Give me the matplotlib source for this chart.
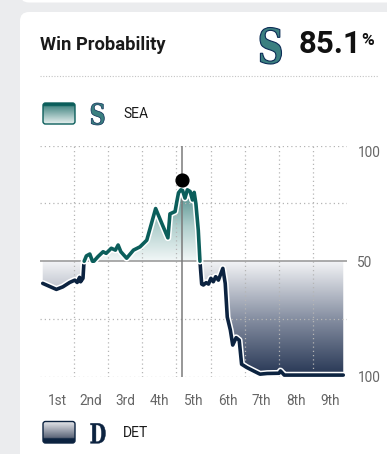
import numpy as np
import matplotlib
matplotlib.use("Agg")
import matplotlib.pyplot as plt
from matplotlib.patches import FancyBboxPatch, Polygon, PathPatch
from matplotlib.textpath import TextPath
from matplotlib.font_manager import FontProperties
from matplotlib.colors import LinearSegmentedColormap
import matplotlib.patheffects as pe
import matplotlib.transforms as mtransforms

# ---------------- data ----------------
innings = [0.08, 0.48, 0.67, 0.87, 1.02, 1.09, 1.16, 1.19, 1.26, 1.29, 1.36, 1.46, 1.55,
           1.70, 1.85, 1.94, 2.09, 2.21, 2.29, 2.37, 2.54, 2.74, 2.93, 3.13, 3.39, 3.57,
           3.75, 3.81, 3.96, 4.01, 4.06, 4.13, 4.18, 4.25, 4.32, 4.40, 4.47, 4.52, 4.57,
           4.64, 4.69, 4.74, 4.79, 4.87, 4.94, 5.01, 5.08, 5.15, 5.23, 5.36, 5.43, 5.49,
           5.58, 5.65, 5.75, 5.84, 5.91, 6.06, 6.26, 6.45, 6.66, 7.01, 7.05, 7.10, 7.16, 8.89]
sea_prob = [40.4, 37.8, 38.9, 40.8, 41.8, 40.8, 43.0, 41.1, 42.6, 49.8, 52.3, 53.1, 49.5,
            52.0, 54.1, 53.4, 55.6, 54.8, 57.0, 54.1, 51.3, 54.8, 56.2, 59.1, 72.8, 66.4,
            60.1, 70.5, 71.5, 75.7, 79.6, 80.9, 80.6, 77.3, 80.9, 80.2, 76.5, 79.8, 74.9,
            63.4, 49.8, 40.1, 39.7, 40.7, 40.1, 42.6, 41.1, 43.3, 41.8, 46.9, 40.4, 25.8,
            20.2, 13.7, 16.9, 15.8, 5.4, 4.0, 2.5, 1.1, 1.4, 1.5, 2.5, 1.7, 0.7, 0.7]
inning_labels = ["1st", "2nd", "3rd", "4th", "5th", "6th", "7th", "8th", "9th"]
y_ticks = [0, 50, 100]
y_tick_labels = ["100", "50", "100"]
grid_prob = [0, 25, 75, 100]
selected_inning = 4.16
selected_prob = 85.1
header_value = "85.1"
title = "Win Probability"
team_home = "SEA"
team_away = "DET"

SEA_C = "#0b5e5b"
DET_C = "#0c2340"
W, H = 387, 454

fig = plt.figure(figsize=(W / 100, H / 100), dpi=100)
fig.patch.set_facecolor("#ebecee")

# background axes in pixel coordinates
bg = fig.add_axes([0, 0, 1, 1], zorder=0)
bg.set_xlim(0, W)
bg.set_ylim(H, 0)
bg.axis("off")

bg.add_patch(FancyBboxPatch((20, -40), 420, 42.5, boxstyle="round,pad=0,rounding_size=9",
                            facecolor="white", edgecolor="none"))
bg.add_patch(FancyBboxPatch((20, 12), 420, 500, boxstyle="round,pad=0,rounding_size=9",
                            facecolor="white", edgecolor="none"))


def glyph(ax, ch, box, family, weight, face, edge, lw, style="normal"):
    x0, y0, x1, y1 = box
    tp = TextPath((0, 0), ch, size=1, prop=FontProperties(family=family, weight=weight, style=style))
    ext = tp.get_extents()
    sx = (x1 - x0) / ext.width
    sy = (y1 - y0) / ext.height
    tr = mtransforms.Affine2D().translate(-ext.x0, -ext.y1).scale(sx, -sy).translate(x0, y0)
    ax.add_patch(PathPatch(tr.transform_path(tp), facecolor=face, edgecolor=edge, lw=lw, zorder=3))


def icon(ax, x0, y0, w, h, stops, border):
    patch = FancyBboxPatch((x0, y0), w, h, boxstyle="round,pad=0,rounding_size=2.5",
                           facecolor="none", edgecolor=border, lw=1.0, zorder=4)
    ax.add_patch(patch)
    cmap = LinearSegmentedColormap.from_list("ic", stops)
    grad = np.linspace(0, 1, 128).reshape(-1, 1)
    im = ax.imshow(grad, extent=[x0, x0 + w, y0 + h, y0], origin="upper", cmap=cmap,
                   aspect="auto", interpolation="bilinear", zorder=3)
    im.set_clip_path(patch)


# header
bg.text(40, 50, title, fontsize=13.2, fontfamily="Roboto", fontweight="bold",
        color="#1a1a1a", va="baseline", ha="left")
glyph(bg, "S", (260, 27.5, 281.5, 64), "DejaVu Serif", "bold", "#3b7f80", "#0c2c56", 0.8)
bg.text(299, 53.3, header_value, fontsize=22.5, fontfamily="Roboto", fontweight="bold",
        color="#111111", va="baseline", ha="left")
bg.text(361, 45.2, "%", fontsize=12.5, fontfamily="Roboto", fontweight="bold",
        color="#111111", va="baseline", ha="left")
bg.plot([40, 378], [76, 76], color="#c4c4c4", lw=0.8, ls=(0, (1, 1.5)))

# legend
icon(bg, 43, 103, 32, 21, [(0, SEA_C), (0.13, SEA_C), (0.16, "#4d8c89"), (1, "#e8f1f0")], SEA_C)
glyph(bg, "S", (91, 103, 104.3, 125), "DejaVu Serif", "bold", "#3b7f80", "#0c2c56", 0.5)
bg.text(123, 118.3, team_home, fontsize=10, fontfamily="Roboto", color="#1a1a1a", va="baseline")
icon(bg, 43, 421.5, 32, 21.5, [(0, "#e9ebef"), (0.76, "#5d6679"), (0.80, DET_C), (1, DET_C)], DET_C)
glyph(bg, "D", (90.5, 423.3, 105.5, 443.3), "DejaVu Serif", "bold", DET_C, DET_C, 0.3)
bg.text(123, 437, team_away, fontsize=10, fontfamily="Roboto", color="#1a1a1a", va="baseline")

bg.set_xlim(0, W)
bg.set_ylim(H, 0)

# ---------------- plot axes ----------------
left, right, top, bottom = 40, 347, 145.7, 376.7
ax = fig.add_axes([left / W, (H - bottom) / H, (right - left) / W, (bottom - top) / H], zorder=1)
ax.patch.set_alpha(0)
ax.set_xlim(0, 9)
ax.set_ylim(0, 100)
for s in ax.spines.values():
    s.set_visible(False)

# insert crossing points at 50
x = np.array(innings, float)
y = np.array(sea_prob, float)
xs, ys = [x[0]], [y[0]]
for i in range(1, len(x)):
    y0, y1 = y[i - 1], y[i]
    if (y0 - 50) * (y1 - 50) < 0:
        t = (50 - y0) / (y1 - y0)
        xs.append(x[i - 1] + t * (x[i] - x[i - 1]))
        ys.append(50.0)
    xs.append(x[i])
    ys.append(y[i])
xs = np.array(xs)
ys = np.array(ys)

# gradient fills
sea_cmap = LinearSegmentedColormap.from_list(
    "sea", [(0, "#f2f7f7"), (0.3, "#b0cfcd"), (0.6, "#4f8d8a"), (1, "#0b5e5b")])
det_cmap = LinearSegmentedColormap.from_list(
    "det", [(0, "#243452"), (0.5, "#858ea1"), (1, "#f3f4f6")])

sea_verts = [(xs[0], 50)] + list(zip(xs, np.maximum(ys, 50))) + [(xs[-1], 50)]
det_verts = [(xs[0], 50)] + list(zip(xs, np.minimum(ys, 50))) + [(xs[-1], 50)]
sea_poly = Polygon(sea_verts, closed=True, facecolor="none", edgecolor="none")
det_poly = Polygon(det_verts, closed=True, facecolor="none", edgecolor="none")
ax.add_patch(sea_poly)
ax.add_patch(det_poly)
g = np.linspace(0, 1, 256).reshape(-1, 1)
im1 = ax.imshow(g, extent=[0, 9, 50, 100], origin="lower", cmap=sea_cmap, aspect="auto",
                interpolation="bilinear", zorder=1)
im1.set_clip_path(sea_poly)
im2 = ax.imshow(g, extent=[0, 9, 0, 50], origin="lower", cmap=det_cmap, aspect="auto",
                interpolation="bilinear", zorder=1)
im2.set_clip_path(det_poly)

# grid
dot = (0, (1, 2.4))
for p in grid_prob:
    ax.axhline(p, color="#b5b5b5", lw=0.9, ls=dot, zorder=2)
for k in range(1, 9):
    ax.axvline(k, color="#b5b5b5", lw=0.9, ls=dot, zorder=2)
ax.axhline(50, color="#9c9c9c", lw=1.2, zorder=2)
ax.axvline(selected_inning, color="#7a7a7a", lw=1.1, zorder=2)

# lines
fx = [pe.Stroke(linewidth=4.8, foreground="white"), pe.Normal()]
ax.plot(xs, np.where(ys <= 50, ys, np.nan), color=DET_C, lw=2.6, path_effects=fx,
        solid_joinstyle="round", solid_capstyle="round", zorder=4, clip_on=False)
ax.plot(xs, np.where(ys >= 50, ys, np.nan), color=SEA_C, lw=2.6, path_effects=fx,
        solid_joinstyle="round", solid_capstyle="round", zorder=5, clip_on=False)
ax.plot([selected_inning], [selected_prob], "o", color="black", ms=9.2, zorder=6, clip_on=False)

# ticks
ax.set_xticks(np.arange(9) + 0.5)
ax.set_xticklabels(inning_labels)
ax.tick_params(axis="x", length=0, pad=12.5, labelsize=9.8, labelcolor="#666666")
ax.yaxis.tick_right()
ax.set_yticks(y_ticks)
ax.set_yticklabels(y_tick_labels)
ax.tick_params(axis="y", length=0, pad=7.5, labelsize=9.8, labelcolor="#666666")
for lab in ax.get_xticklabels() + ax.get_yticklabels():
    lab.set_fontfamily("Roboto")
ax.get_yticklabels()[2].set_verticalalignment("top")

fig.savefig("out.png", dpi=100, facecolor=fig.get_facecolor())
